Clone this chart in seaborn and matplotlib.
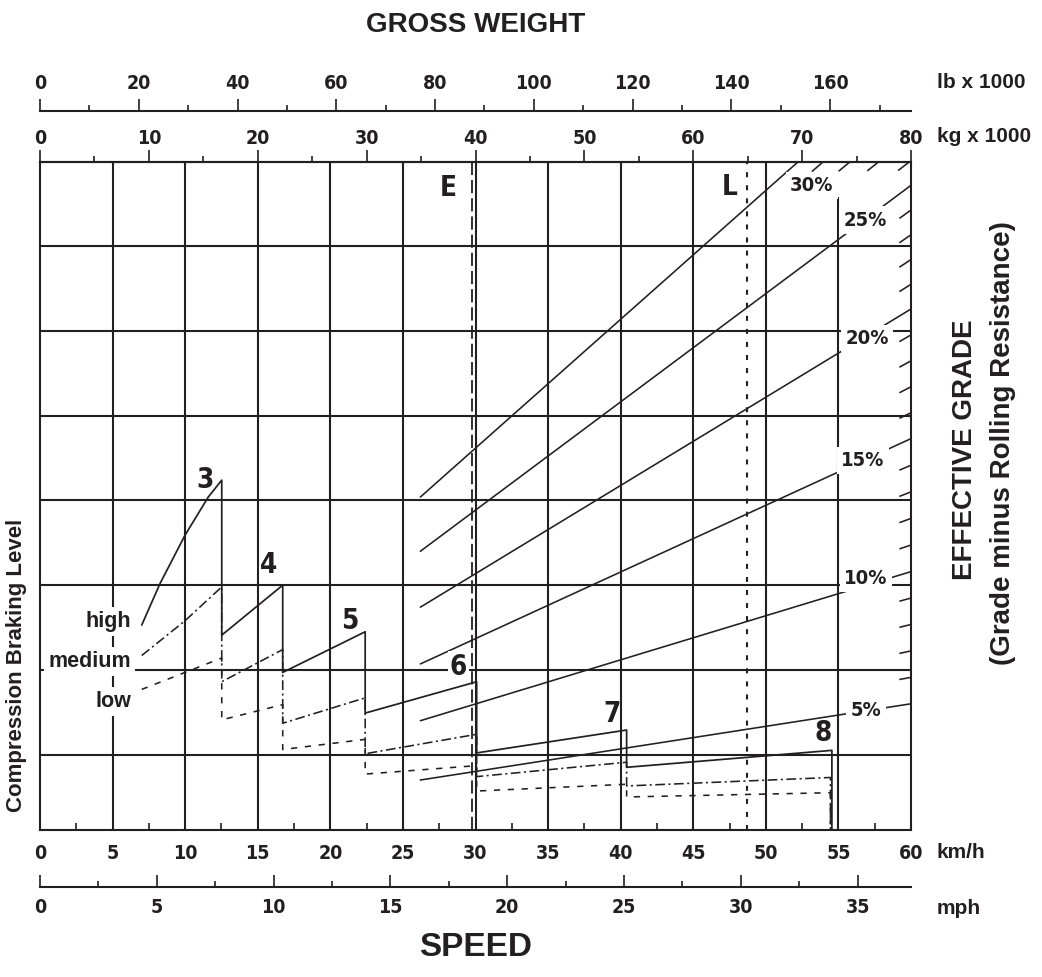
import matplotlib
matplotlib.use("Agg")
import matplotlib.pyplot as plt
import matplotlib.ticker as mticker
import numpy as np
import pandas as pd
import seaborn as sns

# ---------------- data ----------------
kmh_major = [0, 5, 10, 15, 20, 25, 30, 35, 40, 45, 50, 55, 60]
kg_major = [0, 10, 20, 30, 40, 50, 60, 70, 80]
lb_major = [0, 20, 40, 60, 80, 100, 120, 140, 160]
mph_major = [0, 5, 10, 15, 20, 25, 30, 35]

# effective grade lines (level units of the chart grid), from 26.2 km/h to the right edge (60 km/h)
grades = [5, 10, 15, 20, 25, 30]
grade_start_kmh = 26.2
grade_start_level = [-0.30, 0.40, 1.07, 1.74, 2.40, 3.04]
grade_end_level = [0.60, 2.16, 3.73, 5.26, 6.72, 8.18]
grade_scale_ticks = [6, 7, 8, 9, 11, 12, 13, 14, 16, 17, 18, 19, 21, 22, 23, 24, 26, 27, 28, 29]

# compression braking curves per gear (3..8) : high / medium / low
gears = ["3", "4", "5", "6", "7", "8"]
high_kmh = [7.01, 8.27, 9.99, 11.59, 12.52, 12.52, 16.72, 16.72, 22.40, 22.40,
            30.08, 30.08, 40.41, 40.41, 54.55, 54.55]
high_level = [1.53, 2.02, 2.59, 3.04, 3.24, 1.41, 2.00, 0.97, 1.45, 0.49,
              0.86, 0.02, 0.29, -0.15, 0.05, -0.89]
medium_kmh = [7.01, 9.99, 12.52, 12.52, 16.72, 16.72, 22.40, 22.40, 30.08, 30.08,
              40.41, 40.41, 54.45, 54.45]
medium_level = [1.17, 1.58, 1.98, 0.86, 1.24, 0.37, 0.67, 0.01, 0.24, -0.26,
                -0.09, -0.37, -0.27, -0.89]
low_kmh = [7.01, 12.52, 12.52, 16.72, 16.72, 22.40, 22.40, 30.08, 30.08, 40.41,
           40.41, 54.45, 54.45]
low_level = [0.77, 1.14, 0.41, 0.59, 0.06, 0.18, -0.23, -0.13, -0.43, -0.35,
             -0.50, -0.45, -0.89]

empty_kg = 39.7     # E
loaded_kg = 64.9    # L

# ---------------- scales ----------------
LB_PER_KG = 2.20462
KMH_PER_MPH = 1.609344
def kmh2kg(x): return np.asarray(x, dtype=float) * 80.0 / 60.0
def kg2kmh(x): return np.asarray(x, dtype=float) * 60.0 / 80.0
def kmh2lb(x): return np.asarray(x, dtype=float) * 80.0 / 60.0 * LB_PER_KG
def lb2kmh(x): return np.asarray(x, dtype=float) / LB_PER_KG * 60.0 / 80.0
def kmh2mph(x): return np.asarray(x, dtype=float) / KMH_PER_MPH
def mph2kmh(x): return np.asarray(x, dtype=float) * KMH_PER_MPH

# ---------------- style ----------------
sns.set_theme(style="white")
INK = "#231f20"
NARROW = ["Liberation Sans Narrow", "DejaVu Sans Condensed", "DejaVu Sans"]
SANS = ["Liberation Sans", "DejaVu Sans"]
plt.rcParams["font.family"] = NARROW
plt.rcParams["font.stretch"] = "condensed"
plt.rcParams["font.weight"] = "bold"
plt.rcParams["text.color"] = INK
plt.rcParams["xtick.color"] = INK
plt.rcParams["axes.edgecolor"] = INK
plt.rcParams["lines.scale_dashes"] = False

W, H = 1042, 977
fig = plt.figure(figsize=(W / 100, H / 100), dpi=100)
ax = fig.add_axes([40 / W, 1 - 830 / H, 871 / W, (830 - 161.6) / H])
YBOT, YTOP = -0.89, 7.0
ax.set_xlim(0, 60)
ax.set_ylim(YBOT, YTOP)
for s in ax.spines.values():
    s.set_linewidth(1.5)
    s.set_color(INK)
ax.set_yticks([])

# grid
for gx in kmh_major[1:-1]:
    top = 6.58 if gx == 55 else YTOP
    ax.plot([gx, gx], [YBOT, top], color=INK, lw=1.5, zorder=1, solid_capstyle="butt")
for gy in range(0, 7):
    ax.axhline(gy, color=INK, lw=1.5, zorder=1)

# grade lines
grade_df = pd.DataFrame({
    "grade": np.repeat(grades, 2),
    "kmh": [grade_start_kmh, 60.0] * len(grades),
    "level": [v for pair in zip(grade_start_level, grade_end_level) for v in pair],
})
sns.lineplot(data=grade_df, x="kmh", y="level", units="grade", estimator=None,
             color=INK, lw=1.15, ax=ax, zorder=2, legend=False)

# grade scale hatch ticks along the top / right edge
for g in grade_scale_ticks:
    i = np.searchsorted(grades, g)
    g0, g1 = grades[i - 1], grades[i]
    f = (g - g0) / (g1 - g0)
    s0 = grade_start_level[i - 1] + f * (grade_start_level[i] - grade_start_level[i - 1])
    e0 = grade_end_level[i - 1] + f * (grade_end_level[i] - grade_end_level[i - 1])
    slope = (e0 - s0) / (60.0 - grade_start_kmh)
    if e0 <= YTOP:
        xe = 60.0
    else:
        xe = grade_start_kmh + (YTOP - s0) / slope
    xs = xe - 0.8
    ax.plot([xs, xe], [s0 + slope * (xs - grade_start_kmh), s0 + slope * (xe - grade_start_kmh)],
            color=INK, lw=1.15, zorder=2, solid_capstyle="butt")

# braking curves
sns.lineplot(x=high_kmh, y=high_level, sort=False, estimator=None, color=INK,
             lw=1.25, ax=ax, zorder=3)
sns.lineplot(x=medium_kmh, y=medium_level, sort=False, estimator=None, color=INK,
             lw=1.15, linestyle=(0, (7, 2.5, 1.5, 2.5)), ax=ax, zorder=3)
sns.lineplot(x=low_kmh, y=low_level, sort=False, estimator=None, color=INK,
             lw=1.15, linestyle=(0, (4.5, 5.5)), ax=ax, zorder=3)

# E / L weight lines
ax.axvline(kg2kmh(empty_kg), color=INK, lw=1.3, linestyle=(0, (9.5, 3.6)), zorder=2)
ax.axvline(kg2kmh(loaded_kg), color=INK, lw=1.5, linestyle=(0, (3.6, 5.8)), zorder=2)

wbox = dict(facecolor="white", edgecolor="none", pad=3)
ax.text(28.1, 6.69, "E", ha="center", va="center", fontsize=20, zorder=5)
ax.text(47.53, 6.70, "L", ha="center", va="center", fontsize=20, zorder=5)

grade_label_xy = [(56.90, 0.525), (56.90, 2.08), (56.69, 3.47), (56.97, 4.91), (56.83, 6.31), (53.18, 6.72)]
for g, (lx, ly) in zip(grades, grade_label_xy):
    ax.text(lx, ly, f"{g}%", ha="center", va="center", fontsize=14.5, bbox=wbox, zorder=5)

gear_label_xy = [(11.37, 3.24), (15.73, 2.24), (21.35, 1.58), (28.81, 1.04), (39.42, 0.48), (53.92, 0.25)]
for gname, (lx, ly) in zip(gears, gear_label_xy):
    kw = dict(bbox=dict(facecolor="white", edgecolor="none", pad=1.5)) if gname == "6" else {}
    ax.text(lx, ly, gname, ha="center", va="center", fontsize=20, zorder=5, **kw)

for txt, ly in [("high", 1.57), ("medium", 1.095), ("low", 0.623)]:
    ax.text(6.27, ly, txt, ha="right", va="center", fontsize=15.5, family=SANS,
            stretch="normal", bbox=wbox, zorder=5)

# bottom km/h axis
ax.set_xticks(kmh_major)
ax.xaxis.set_minor_locator(mticker.MultipleLocator(2.5))
ax.tick_params(axis="x", which="major", bottom=True, length=0, pad=9.8, labelsize=14, labelcolor=INK)
ax.tick_params(axis="x", which="minor", bottom=True, direction="in", length=5, width=1.2, color=INK)

# top kg axis
kg_ax = ax.secondary_xaxis("top", functions=(kmh2kg, kg2kmh))
kg_ax.set_xticks(kg_major)
kg_ax.xaxis.set_minor_locator(mticker.MultipleLocator(5))
kg_ax.tick_params(axis="x", which="major", top=True, direction="out", length=8.6, width=1.2, pad=1, labelsize=14, labelcolor=INK, color=INK)
kg_ax.tick_params(axis="x", which="minor", top=True, direction="out", length=4.3, width=1.2, color=INK)
kg_ax.spines["top"].set_linewidth(1.5)

# top lb axis
lb_ax = ax.secondary_xaxis(1 + (161.6 - 111) / 668.4, functions=(kmh2lb, lb2kmh))
lb_ax.set_alignment("top")
lb_ax.set_xticks(lb_major)
lb_ax.xaxis.set_minor_locator(mticker.MultipleLocator(10))
lb_ax.tick_params(axis="x", which="major", top=True, direction="out", length=8.6, width=1.2, pad=4.3, labelsize=14, labelcolor=INK, color=INK)
lb_ax.tick_params(axis="x", which="minor", top=True, direction="out", length=4.3, width=1.2, color=INK)
lb_ax.spines["top"].set_linewidth(1.5)

# bottom mph axis
mph_ax = ax.secondary_xaxis(-(886.7 - 830) / 668.4, functions=(kmh2mph, mph2kmh))
mph_ax.set_alignment("bottom")
mph_ax.set_xticks(mph_major)
mph_ax.xaxis.set_minor_locator(mticker.MultipleLocator(2.5))
mph_ax.tick_params(axis="x", which="major", bottom=True, direction="in", length=8.6, width=1.2, pad=7.9, labelsize=14, labelcolor=INK, color=INK)
mph_ax.tick_params(axis="x", which="minor", bottom=True, direction="in", length=4.3, width=1.2, color=INK)
mph_ax.spines["bottom"].set_linewidth(1.5)

# figure texts
def fy(p): return 1 - p / H
def fx(p): return p / W
fig.text(fx(476), fy(25), "GROSS WEIGHT", ha="center", va="center", fontsize=20, family=SANS, stretch="normal")
fig.text(fx(476), fy(948), "SPEED", ha="center", va="center", fontsize=24, family=SANS, stretch="normal")
for txt, py in [("lb x 1000", 82), ("kg x 1000", 136), ("km/h", 853), ("mph", 908)]:
    fig.text(fx(937), fy(py), txt, ha="left", va="center", fontsize=15, family=SANS, stretch="normal")
fig.text(fx(965), fy(450), "EFFECTIVE GRADE", rotation=90, ha="center", va="center", fontsize=20, family=SANS, stretch="normal")
fig.text(fx(1003), fy(443), "(Grade minus Rolling Resistance)", rotation=90, ha="center", va="center", fontsize=20, family=SANS, stretch="normal")
fig.text(fx(17), fy(665), "Compression Braking Level", rotation=90, ha="center", va="center", fontsize=16, family=SANS, stretch="normal")

ax.set_xlabel("")
ax.set_ylabel("")
fig.savefig("out.png", dpi=100)
